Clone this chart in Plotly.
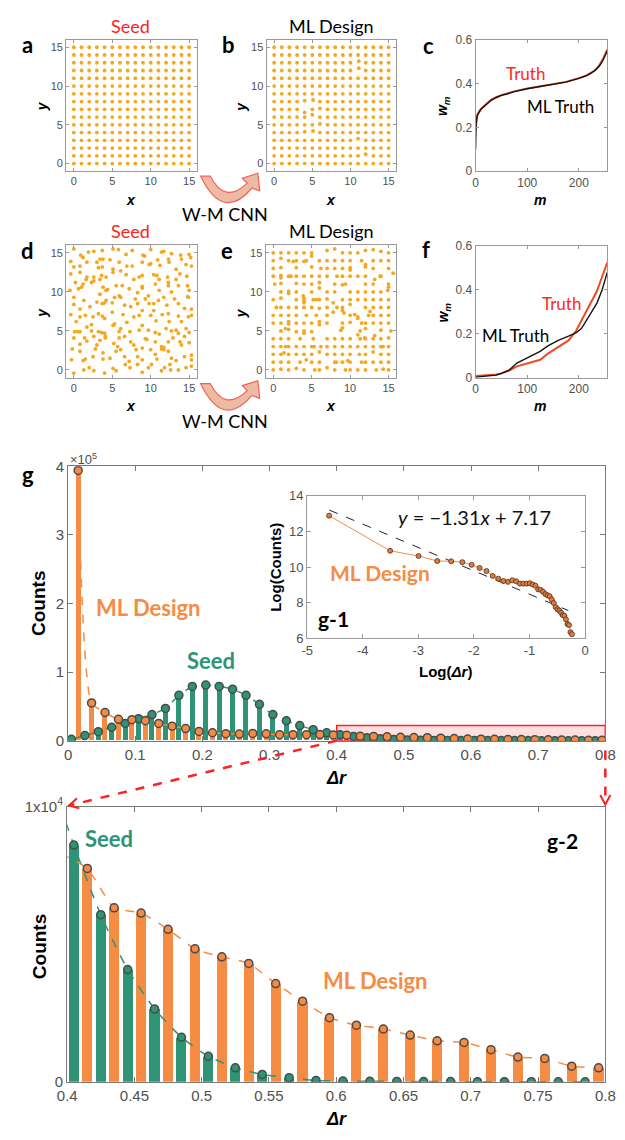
import math
import plotly.graph_objects as go

W, H = 625, 1140

# ---------------- data ----------------
LATTICE = [0, 1, 2, 3, 4, 5, 6, 7, 8, 9, 10, 11, 12, 13, 14, 15]
AXIS_TICKS_XY = [0, 5, 10, 15]

# panel b: lattice sites that moved in the ML design  (col,row) -> (x,y)
B_MOVED = {
    (4, 7): (4.0, 6.6), (4, 8): (4.0, 8.1), (5, 8): (5.1, 8.2), (5, 6): (5.0, 6.3),
    (6, 7): (6.0, 7.1), (6, 5): (6.0, 5.1), (11, 13): (11.1, 13.2), (11, 12): (11.1, 12.3),
    (5, 4): (5.1, 4.2), (4, 4): (4.0, 4.1), (12, 1): (12.0, 1.2), (11, 3): (11.0, 3.2),
}

# panel d: random seed positions
D_POINTS = [
    (0, 15.5), (0.9, 14.7), (1.2, 14.4), (1.9, 15.1), (2.6, 15.2), (3.7, 15.3), (5.1, 15.5), (5.8, 15.4),
    (6.8, 14.8), (7.6, 15.3), (9.0, 14.7), (9.2, 14.6), (10.0, 15.4), (11.4, 15.1), (11.7, 15.2),
    (12.7, 14.9), (13.9, 14.7), (15.0, 14.8), (15.2, 14.4),
    (-0.4, 13.9), (0, 13.2), (0.8, 13.3), (1.7, 13.8), (3.0, 13.8), (3.4, 14.2), (3.8, 14.2), (3.2, 13.1),
    (3.7, 13.2), (4.7, 14.1), (5.1, 12.9), (5.9, 13.8), (6.9, 13.3), (7.6, 13.3), (8.9, 13.8), (9.8, 13.5),
    (10.0, 13.6), (10.9, 14.1), (11.2, 13.4), (12.3, 14.2), (12.4, 13.8), (13.3, 12.9), (14.0, 14.2),
    (14.6, 13.5), (15.3, 13.3),
    (-0.4, 12.3), (0.2, 11.2), (0.8, 12.5), (1.7, 11.9), (1.6, 11.6), (2.6, 11.9), (3.4, 11.6), (3.6, 12.1),
    (4.2, 11.9), (5.1, 12.5), (6.1, 12.7), (6.8, 12.2), (7.8, 11.6), (8.5, 11.9), (8.9, 12.1), (10.4, 12.2),
    (10.8, 12.1), (11.1, 11.6), (12.2, 11.9), (12.3, 11.2), (13.3, 11.6), (13.8, 12.3), (14.7, 12.0),
    (-0.5, 10.2), (0.6, 10.4), (1.0, 10.6), (1.2, 11.0), (2.3, 11.2), (2.6, 11.4), (3.8, 10.6), (3.4, 9.7),
    (4.2, 10.2), (4.4, 10.3), (5.5, 10.8), (6.3, 10.8), (5.9, 9.5), (7.2, 10.4), (8.3, 9.9), (8.9, 10.7),
    (8.9, 10.5), (9.7, 9.5), (10.6, 11.0), (11.1, 10.2), (12.3, 10.8), (12.7, 10.0), (13.6, 10.8),
    (14.8, 10.8), (15.0, 10.2), (14.8, 9.4),
    (0, 9.3), (0, 8.4), (1.3, 8.9), (0.8, 7.8), (2.1, 8.1), (3.0, 8.7), (3.7, 8.5), (4.0, 8.6), (4.2, 8.9),
    (5.0, 8.6), (5.3, 9.3), (6.1, 9.3), (6.6, 8.3), (7.4, 8.1), (8.0, 9.1), (8.3, 8.5), (9.3, 9.1), (9.8, 8.5),
    (10.4, 8.5), (11.0, 8.9), (11.7, 9.3), (12.1, 8.3), (13.1, 9.1), (13.6, 8.5), (14.4, 7.9), (14.9, 9.3),
    (15.3, 7.8),
    (-0.4, 7.1), (0.3, 6.2), (0.8, 6.8), (1.5, 7.0), (2.5, 6.8), (3.2, 7.2), (3.7, 6.9), (4.0, 6.6), (5.0, 7.4),
    (5.3, 5.9), (6.4, 7.1), (6.9, 6.1), (7.8, 6.8), (8.5, 7.0), (8.9, 7.6), (10.0, 7.0), (10.4, 7.6),
    (10.7, 6.3), (11.5, 7.1), (12.3, 7.2), (12.4, 6.2), (13.6, 6.9), (14.0, 6.2), (14.9, 6.8), (15.3, 7.0),
    (0.1, 4.9), (0.5, 4.9), (0.8, 4.9), (1.7, 5.5), (2.3, 5.8), (2.3, 5.0), (3.2, 4.9), (3.6, 4.8), (4.0, 4.7),
    (5.1, 5.7), (6.1, 5.3), (5.9, 4.9), (7.3, 4.9), (8.5, 5.1), (8.9, 5.7), (9.7, 5.1), (10.6, 4.8),
    (11.1, 4.6), (12.0, 5.3), (12.7, 5.0), (13.3, 5.1), (13.6, 4.7), (14.6, 5.3), (15.0, 4.8),
    (0, 4.1), (1.4, 4.1), (1.7, 3.7), (0.8, 3.3), (2.6, 4.3), (3.0, 3.2), (3.4, 3.8), (4.1, 4.3), (4.1, 4.1),
    (5.2, 3.4), (5.7, 3.0), (5.9, 4.1), (6.6, 4.3), (7.4, 3.6), (7.8, 3.2), (9.3, 4.0), (9.5, 3.9), (8.9, 2.8),
    (10.6, 3.6), (11.4, 3.0), (11.7, 2.9), (12.3, 3.6), (12.9, 4.1), (13.8, 3.6), (14.4, 4.3), (14.0, 3.2),
    (15.0, 3.5),
    (-0.2, 2.7), (0.8, 2.4), (1.2, 1.2), (1.5, 1.4), (2.5, 1.7), (2.8, 2.7), (3.8, 2.2), (3.8, 1.4), (4.7, 1.5),
    (5.5, 2.4), (6.1, 2.6), (6.6, 1.7), (7.2, 1.1), (8.1, 2.6), (8.3, 1.7), (8.9, 1.3), (10.0, 2.6),
    (10.6, 2.0), (10.8, 1.4), (11.4, 2.7), (11.7, 2.6), (12.3, 2.4), (12.7, 1.5), (13.3, 1.2), (14.4, 1.7),
    (15.3, 1.9), (15.3, 1.3),
    (-0.3, 1.3), (0, -0.4), (1.3, 0), (2.0, 0.3), (2.6, -0.1), (4.0, -0.4), (5.1, 0.2), (5.5, -0.1), (6.7, 0.7),
    (7.3, 0.3), (8.3, 0.7), (8.9, -0.3), (9.7, 0.3), (10.1, 0.7), (11.4, -0.1), (11.8, 0.3), (12.5, 0.7),
    (12.6, 0), (13.6, 0), (14.6, 0.3), (15.3, 0.5),
]

# panel e: ML design positions
E_POINTS = [
    (0, 15), (1, 15), (2, 15), (3, 15), (4, 15), (5, 15), (7, 15.3), (8, 15.5), (9, 15), (10, 15), (11, 15),
    (12, 15.3), (13, 15.4), (14, 15.2), (15, 15),
    (0, 14), (1, 14.3), (2, 14), (2.6, 13.9), (3, 14), (4, 13.9), (4.3, 14), (5, 14.6), (6, 14), (7, 14), (8, 14),
    (9, 14), (10, 14), (11.5, 14), (12, 13.5), (13, 14), (14, 14), (15, 14),
    (0, 13), (1, 13.1), (3, 13.1), (5, 13.2), (6.2, 13), (7, 13), (8, 13), (9, 13), (10, 12.8), (10, 13.1),
    (12, 13.2), (13, 13), (15, 13),
    (0, 12), (1, 12.1), (1, 11.8), (2, 12), (2.3, 12), (3, 12), (4, 12), (5, 12), (6, 12), (7, 12), (8.3, 12),
    (9, 12), (10, 12), (11, 12), (12, 12), (13.2, 11.6), (13.9, 12), (14, 12), (15, 11), (15.6, 12.4),
    (0.2, 11), (1, 11.1), (3, 11.1), (4, 11), (5, 11), (6, 11.2), (8, 11), (9, 10.9), (9.4, 11), (12, 11), (13, 11),
    (15, 10.6),
    (1, 10), (2, 10.1), (2, 9.8), (3, 10), (3.9, 9.5), (4, 9.2), (5, 10), (6, 10.5), (7, 10), (8, 10), (10, 10),
    (11, 10), (12, 10), (13, 10), (14, 10), (14.9, 10.2),
    (0, 9), (1, 9.2), (3, 9), (4, 8.8), (4, 8.6), (5.2, 9), (5.6, 9), (6, 9), (7, 9.1), (7.8, 8.6), (9, 9), (10, 9),
    (11, 9), (12, 9), (13, 9), (14, 9), (15, 9),
    (0.4, 8), (1, 8), (2, 8), (3, 8), (4, 8), (5, 8), (6, 7.9), (7, 8), (8.3, 8), (9, 8), (10, 8.4), (12, 8),
    (12.6, 7.5), (13, 8), (14, 8), (15, 8),
    (0, 7), (1, 7), (2, 7), (3, 7), (4.3, 7), (5.6, 7), (7, 7), (7.8, 7.4), (9, 7.6), (9.2, 7.3), (10, 7),
    (10.6, 7.1), (11, 6.8), (11, 6.6), (12.4, 7), (13, 7), (14, 7), (15, 7),
    (0, 6), (1, 6), (2, 6.2), (2, 5.9), (3, 6), (4, 6), (5, 6), (6, 6.2), (6, 5.8), (7, 6), (9, 6), (10, 6.1),
    (11.5, 6), (12, 6), (13, 6), (14, 6), (15, 6),
    (1, 5), (1.6, 5.3), (2, 5.2), (3, 4.9), (4, 5), (4, 4.7), (5, 4.9), (8.8, 5.1), (9, 5.4), (11, 4.5),
    (11.3, 5), (11.9, 4.1), (12, 5.3), (13.2, 4.4), (14, 5.1), (15.3, 5),
    (0, 4), (1, 4), (2, 4), (3.5, 4), (5.2, 4), (7, 4), (8, 4), (9, 4), (10, 4), (11.3, 4), (12, 4), (13, 4),
    (14, 4), (15, 4.1),
    (0, 3), (1, 3), (1.6, 3), (2, 3), (3, 3), (4, 3), (5, 3), (5.3, 3), (6.2, 3), (7, 3), (8, 3), (9, 3), (10, 3),
    (11, 3), (12, 3), (13, 3), (14, 3), (14.3, 3), (15, 3),
    (0, 2), (1, 2), (1.4, 2.2), (2, 2), (3, 2), (4, 2), (5, 2), (6, 2.3), (7, 2), (8, 2), (9, 2), (10, 2),
    (11.2, 2), (12, 2), (13, 2.3), (14, 2), (15, 2),
    (0, 1), (1, 1), (2, 1), (3.5, 1), (4.3, 1.3), (5, 1), (6, 1), (8, 1), (8.2, 1), (9, 1), (9.7, 1.2), (10, 1),
    (11.5, 1), (12, 1), (13, 1), (14, 1), (15, 1),
    (0, 0), (1, 0.1), (2, 0), (3, 0.2), (4, 0), (5.4, 0), (6, 0), (7, 0.3), (8, 0), (9.4, 0), (10, 0), (11, 0),
    (12, 0), (13.4, 0), (14.3, 0.1), (15, 0),
]

# panel c
C_M = [0, 1, 3, 5, 10, 20, 30, 40, 50, 60, 75, 100, 125, 150, 175, 200, 215, 225, 232, 238, 243, 247, 250, 253, 255]
C_TRUTH = [0.19, 0.23, 0.255, 0.265, 0.283, 0.305, 0.325, 0.337, 0.347, 0.353, 0.364, 0.377, 0.387, 0.396,
           0.407, 0.424, 0.437, 0.45, 0.462, 0.477, 0.494, 0.512, 0.527, 0.543, 0.555]
C_ML = [0.10, 0.22, 0.25, 0.262, 0.281, 0.303, 0.323, 0.336, 0.346, 0.352, 0.363, 0.376, 0.386, 0.395,
        0.406, 0.423, 0.436, 0.449, 0.46, 0.475, 0.49, 0.508, 0.522, 0.538, 0.548]
# panel f
F_M = [0, 20, 40, 50, 65, 80, 100, 115, 125, 140, 160, 180, 195, 205, 215, 225, 235, 245, 250, 255]
F_TRUTH = [0.008, 0.01, 0.015, 0.02, 0.033, 0.052, 0.065, 0.072, 0.082, 0.11, 0.14, 0.17, 0.215, 0.26,
           0.305, 0.35, 0.395, 0.46, 0.49, 0.525]
F_ML = [0.003, 0.006, 0.012, 0.02, 0.035, 0.067, 0.09, 0.105, 0.12, 0.145, 0.17, 0.19, 0.206, 0.224,
        0.262, 0.30, 0.34, 0.40, 0.44, 0.48]

# panel g : histogram of delta r (bin centres, 0.02 wide)
BIN_CENTER = [0.01, 0.03, 0.05, 0.07, 0.09, 0.11, 0.13, 0.15, 0.17, 0.19,
              0.21, 0.23, 0.25, 0.27, 0.29, 0.31, 0.33, 0.35, 0.37, 0.39,
              0.41, 0.43, 0.45, 0.47, 0.49, 0.51, 0.53, 0.55, 0.57, 0.59,
              0.61, 0.63, 0.65, 0.67, 0.69, 0.71, 0.73, 0.75, 0.77, 0.79]
SEED_COUNTS = [2000, 7500, 13000, 19500, 25000, 32000, 38000, 47000, 66000, 79000,
               81000, 79000, 75000, 66000, 53000, 38000, 29000, 22000, 16000, 11500,
               8600, 6070, 4080, 2650, 1620, 930, 510, 270, 150, 50,
               30, 20, 15, 10, 10, 5, 5, 5, 3, 3]
ML_COUNTS = [394000, 55000, 41000, 31000, 30500, 29000, 25000, 21000, 17600, 13400,
             11500, 10100, 9600, 10500, 9900, 8700, 8700, 8700, 8900, 8300,
             7750, 6320, 6130, 5540, 4830, 4540, 4300, 3570, 2930, 2330,
             2060, 1920, 1700, 1490, 1430, 1170, 900, 850, 570, 510]
FIT_SLOPE, FIT_INTERCEPT = -1.31, 7.17
FIT_X = [-4.6, -0.3]
G_TICKS = [0, 0.1, 0.2, 0.3, 0.4, 0.5, 0.6, 0.7, 0.8]
G_YTICKS = [0, 100000, 200000, 300000, 400000]
G_YTEXT = ['0', '1', '2', '3', '4']
G2_TICKS = [0.4, 0.45, 0.5, 0.55, 0.6, 0.65, 0.7, 0.75, 0.8]
G2_TEXT = ['0.4', '0.45', '0.5', '0.55', '0.6', '0.65', '0.7', '0.75', '0.8']

# ---------------- style ----------------
DOT = '#F5A81E'
ORANGE = '#F68B44'
GREEN = '#2E9475'
RED = '#FF2020'
EDGE = '#4a4a4a'
TICKFONT = 'Liberation Sans, Arial, sans-serif'
CAL = 'Lato, Carlito, sans-serif'
BAR_OFFSET = 0.005
BAR_W = 0.0075


def px(x):
    return x / W


def py(y):
    return 1 - y / H


fig = go.Figure()
layout = {}


def add_axes(i, box, xr, yr, xticks, yticks, xtext=None, ytext=None, tsize=11, lc='#9a9a9a', lw=1, ticklen=3):
    x0, x1, y0, y1 = box
    xn = 'xaxis' if i == 1 else f'xaxis{i}'
    yn = 'yaxis' if i == 1 else f'yaxis{i}'
    ya = 'y' if i == 1 else f'y{i}'
    xa = 'x' if i == 1 else f'x{i}'
    common = dict(showline=True, linecolor=lc, linewidth=lw, mirror='allticks', ticks='inside',
                  ticklen=ticklen, tickcolor=lc, showgrid=False, zeroline=False,
                  tickfont=dict(family=TICKFONT, size=tsize, color='#505050'), fixedrange=True)
    xd = dict(common, domain=[px(x0), px(x1)], range=xr, anchor=ya, tickvals=xticks)
    yd = dict(common, domain=[py(y1), py(y0)], range=yr, anchor=xa, tickvals=yticks)
    if xtext is not None:
        xd['ticktext'] = xtext
    if ytext is not None:
        yd['ticktext'] = ytext
    layout[xn] = xd
    layout[yn] = yd
    return xa, ya


def dots(xs, ys, axs):
    fig.add_trace(go.Scatter(x=xs, y=ys, mode='markers', xaxis=axs[0], yaxis=axs[1],
                             marker=dict(size=3.8, color=DOT, line=dict(width=0)),
                             hoverinfo='skip', showlegend=False))


# ---- a, b, d, e ----
ax_a = add_axes(1, (58, 193, 29, 163), [-1, 16], [-1, 16], AXIS_TICKS_XY, AXIS_TICKS_XY)
ax_b = add_axes(2, (265, 399, 29, 163), [-1, 16], [-1, 16], AXIS_TICKS_XY, AXIS_TICKS_XY)
ax_d = add_axes(4, (58, 193, 238, 373), [-1, 16], [-1, 16], AXIS_TICKS_XY, AXIS_TICKS_XY)
ax_e = add_axes(5, (264, 399, 238, 373), [-1, 16], [-1, 16], AXIS_TICKS_XY, AXIS_TICKS_XY)

dots([c for r in LATTICE for c in LATTICE], [r for r in LATTICE for c in LATTICE], ax_a)
bpts = [B_MOVED.get((c, r), (c, r)) for r in LATTICE for c in LATTICE]
dots([p[0] for p in bpts], [p[1] for p in bpts], ax_b)
dots([p[0] for p in D_POINTS], [p[1] for p in D_POINTS], ax_d)
dots([p[0] for p in E_POINTS], [p[1] for p in E_POINTS], ax_e)

# ---- c, f ----
ax_c = add_axes(3, (481, 617, 29, 163), [0, 255], [0, 0.6], [0, 100, 200], [0, 0.2, 0.4, 0.6],
                ytext=['0', '0.2', '0.4', '0.6'], tsize=12)
ax_f = add_axes(6, (481, 617, 239, 373), [0, 255], [0, 0.6], [0, 100, 200], [0, 0.2, 0.4, 0.6],
                ytext=['0', '0.2', '0.4', '0.6'], tsize=12)
for axs, m, tr, ml in ((ax_c, C_M, C_TRUTH, C_ML), (ax_f, F_M, F_TRUTH, F_ML)):
    fig.add_trace(go.Scatter(x=m, y=tr, mode='lines', xaxis=axs[0], yaxis=axs[1],
                             line=dict(color='#F04A23', width=2.0), hoverinfo='skip', showlegend=False))
    fig.add_trace(go.Scatter(x=m, y=ml, mode='lines', xaxis=axs[0], yaxis=axs[1],
                             line=dict(color='#151515', width=1.4), hoverinfo='skip', showlegend=False))

# ---- g main ----
ax_g = add_axes(7, (60, 615, 463, 742), [0, 0.8], [0, 400000], G_TICKS, G_YTICKS,
                xtext=['0', '0.1', '0.2', '0.3', '0.4', '0.5', '0.6', '0.7', '0.8'], ytext=G_YTEXT,
                tsize=15, lc='#7a7a7a', lw=1.2, ticklen=5)
ax_g2 = add_axes(9, (59, 615, 809, 1089), [0.4, 0.8], [0, 10000], G2_TICKS, [0, 10000],
                 xtext=G2_TEXT, ytext=['0', '1x10<sup>4</sup>'], tsize=15, lc='#7a7a7a', lw=1.2, ticklen=5)

seed_x = [c - BAR_OFFSET for c in BIN_CENTER]
ml_x = [c + BAR_OFFSET for c in BIN_CENTER]
for axs, msize in ((ax_g, 8), (ax_g2, 8)):
    fig.add_trace(go.Bar(x=seed_x, y=SEED_COUNTS, width=BAR_W, marker=dict(color=GREEN, line=dict(width=0)),
                         xaxis=axs[0], yaxis=axs[1], hoverinfo='skip', showlegend=False))
    fig.add_trace(go.Bar(x=ml_x, y=ML_COUNTS, width=BAR_W, marker=dict(color=ORANGE, line=dict(width=0)),
                         xaxis=axs[0], yaxis=axs[1], hoverinfo='skip', showlegend=False))
    fig.add_trace(go.Scatter(x=seed_x, y=SEED_COUNTS, mode='lines', xaxis=axs[0], yaxis=axs[1],
                             line=dict(color=GREEN, width=1.5, dash='dash', shape='spline', smoothing=0.6),
                             hoverinfo='skip', showlegend=False))
    fig.add_trace(go.Scatter(x=ml_x, y=ML_COUNTS, mode='lines', xaxis=axs[0], yaxis=axs[1],
                             line=dict(color=ORANGE, width=1.5, dash='dash', shape='spline', smoothing=0.6),
                             hoverinfo='skip', showlegend=False))
    fig.add_trace(go.Scatter(x=seed_x, y=SEED_COUNTS, mode='markers', xaxis=axs[0], yaxis=axs[1],
                             marker=dict(size=msize, color=GREEN, line=dict(color=EDGE, width=1.5)),
                             hoverinfo='skip', showlegend=False))
    fig.add_trace(go.Scatter(x=ml_x, y=ML_COUNTS, mode='markers', xaxis=axs[0], yaxis=axs[1],
                             marker=dict(size=msize, color=ORANGE, line=dict(color=EDGE, width=1.5)),
                             hoverinfo='skip', showlegend=False))

# ---- g-1 inset ----
ax_g1 = add_axes(8, (307, 594, 493, 638), [-5, 0], [6, 14], [-5, -4, -3, -2, -1, 0], [6, 8, 10, 12, 14],
                 tsize=13, lc='#9a9a9a', lw=1, ticklen=4)
layout['xaxis8']['ticktext'] = ['-5', '-4', '-3', '-2', '-1', '0']
fig.add_trace(go.Scatter(x=FIT_X, y=[FIT_SLOPE * v + FIT_INTERCEPT for v in FIT_X], mode='lines',
                         xaxis=ax_g1[0], yaxis=ax_g1[1], line=dict(color='#222', width=1, dash='dash'),
                         hoverinfo='skip', showlegend=False))
fig.add_trace(go.Scatter(x=[math.log(v) for v in BIN_CENTER], y=[math.log(v) for v in ML_COUNTS],
                         mode='lines+markers', xaxis=ax_g1[0], yaxis=ax_g1[1],
                         line=dict(color=ORANGE, width=1),
                         marker=dict(size=5, color='#E57B3A', line=dict(color='#4a3020', width=0.8)),
                         hoverinfo='skip', showlegend=False))

# ---------------- annotations ----------------
ann = []


def A(text, x, y, size, color='black', family=CAL, angle=0, xanchor='center', yanchor='middle'):
    ann.append(dict(text=text, x=px(x), y=py(y), xref='paper', yref='paper', showarrow=False,
                    font=dict(family=family, size=size, color=color), textangle=angle,
                    xanchor=xanchor, yanchor=yanchor))


# panel letters
for t, x, y in (('a', 18, 34), ('b', 226, 34), ('c', 432, 35), ('d', 18, 244), ('e', 224, 244),
                ('f', 430, 243), ('g', 19, 471)):
    A(f'<b>{t}</b>', x, y, 22)
# titles
A('Seed', 124, 15, 18, RED)
A('ML Design', 332, 15, 18)
A('Seed', 124, 224, 18, RED)
A('ML Design', 332, 224, 18)
A('W-M CNN', 222, 206, 18)
A('W-M CNN', 222, 417, 18)
# small axis titles
for x, y in ((125, 192), (332, 192), (125, 402), (332, 402)):
    A('<b><i>x</i></b>', x, y, 14, family=TICKFONT)
for x, y in ((33, 97), (239, 97), (33, 307), (239, 307)):
    A('<b><i>y</i></b>', x, y, 14, family=TICKFONT, angle=-90)
for y in (192, 402):
    A('<b><i>m</i></b>', 548, y, 14, family=TICKFONT)
for y in (97, 307):
    A('<b><i>w</i></b><sub><b><i>m</i></b></sub>', 448, y, 14, family=TICKFONT, angle=-90)
A('Truth', 533, 64, 17, '#FF2A1A')
A('ML Truth', 569, 97, 17)
A('Truth', 570, 297, 17, '#FF2A1A')
A('ML Truth', 522, 330, 17)
# g
A('×10<sup>5</sup>', 60, 456, 13, '#505050', family=TICKFONT, xanchor='left')
A('<b>Counts</b>', 30, 603, 19, family=TICKFONT, angle=-90)
A('<b><i>Δr</i></b>', 337, 780, 18, family=TICKFONT)
A('<b>ML Design</b>', 143, 607, 22, ORANGE)
A('<b>Seed</b>', 208, 661, 22, GREEN)
# g-1
A('<i>y</i> = −1.31<i>x</i> + 7.17', 480, 515, 20, '#111')
A('<b>ML Design</b>', 382, 571, 21, ORANGE)
A('<b>g-1</b>', 334, 618, 21)
A('<b>Log(Counts)</b>', 274, 566, 15, family=TICKFONT, angle=-90)
A('<b>Log(<i>Δr</i>)</b>', 450, 672, 15, family=TICKFONT)
# g-2
A('<b>Counts</b>', 30, 952, 19, family=TICKFONT, angle=-90)
A('<b><i>Δr</i></b>', 337, 1127, 18, family=TICKFONT)
A('<b>Seed</b>', 102, 842, 22, GREEN)
A('<b>ML Design</b>', 378, 986, 22, ORANGE)
A('<b>g-2</b>', 571, 844, 21)

# ---------------- shapes ----------------
shapes = []


def P(pts):
    return ' '.join(f'{px(x):.5f},{py(y):.5f}' for x, y in pts)


def arrow_path(dy):
    s = lambda x, y: (x, y + dy)
    return ('M ' + P([s(197, 168)]) + ' Q ' + P([s(220, 215), s(250, 180)]) +
            ' L ' + P([s(258, 183)]) + ' L ' + P([s(256, 165)]) + ' L ' + P([s(240, 170)]) +
            ' L ' + P([s(245, 175)]) + ' Q ' + P([s(222, 197), s(207, 168)]) + ' Z')


for dy in (0, 211):
    shapes.append(dict(type='path', xref='paper', yref='paper', path=arrow_path(dy),
                       fillcolor='#EDBBA4', line=dict(color='#F2625A', width=1.2), layer='above'))

# highlight rectangle in g
shapes.append(dict(type='rect', xref='x7', yref='y7', x0=0.4, x1=0.8, y0=0, y1=22000,
                   fillcolor='rgba(255,0,0,0.12)', line=dict(color=RED, width=1.5), layer='below'))


def dashed_arrow(p0, p1):
    shapes.append(dict(type='line', xref='paper', yref='paper', x0=px(p0[0]), y0=py(p0[1]),
                       x1=px(p1[0]), y1=py(p1[1]), line=dict(color=RED, width=2.5, dash='dash')))
    dx, dyy = p1[0] - p0[0], p1[1] - p0[1]
    L = math.hypot(dx, dyy)
    ux, uy = dx / L, dyy / L
    wings = []
    for ang in (0.5, -0.5):
        ca, sa = math.cos(ang), math.sin(ang)
        wx = -(ux * ca - uy * sa) * 11
        wy = -(ux * sa + uy * ca) * 11
        wings.append((p1[0] + wx, p1[1] + wy))
    shapes.append(dict(type='path', xref='paper', yref='paper',
                       path='M ' + P([wings[0]]) + ' L ' + P([p1]) + ' L ' + P([wings[1]]),
                       line=dict(color=RED, width=2)))


dashed_arrow((337.5, 742), (61, 808))
dashed_arrow((615, 752), (615, 807))

layout.update(dict(width=W, height=H, margin=dict(l=0, r=0, t=0, b=0), autosize=False,
                   paper_bgcolor='white', plot_bgcolor='white', showlegend=False,
                   annotations=ann, shapes=shapes, barmode='overlay', bargap=0))
fig.update_layout(**layout)
fig.write_html('out.html')
